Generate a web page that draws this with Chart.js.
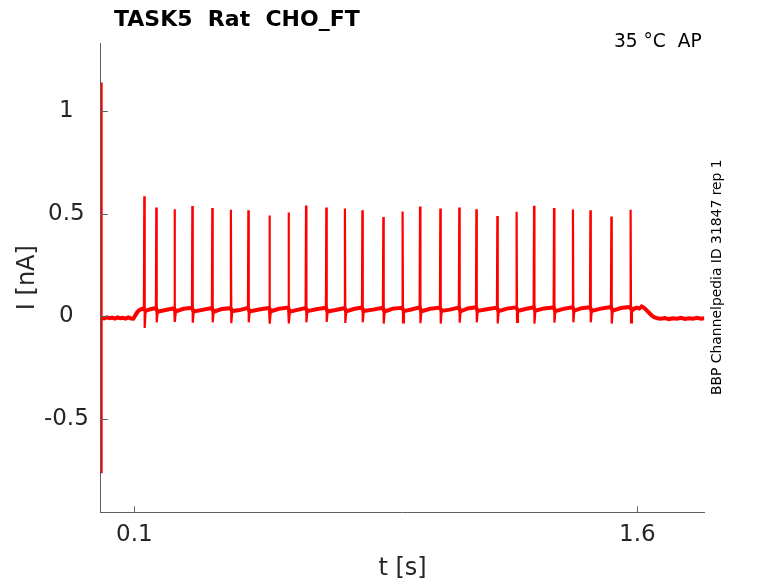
<!DOCTYPE html>
<html><head><meta charset="utf-8">
<script src="https://cdn.jsdelivr.net/npm/chart.js@4.4.1/dist/chart.umd.min.js"></script>
<style>html,body{margin:0;padding:0;background:#fff;}#wrap{width:778px;height:583px;}</style>
</head><body><div id="wrap"><canvas id="c" width="778" height="583"></canvas></div>
<script>
const titleText = "TASK5  Rat  CHO_FT";
const cornerText = "35 °C  AP";
const sideText = "BBP Channelpedia ID 31847 rep 1";
const xTitle = "t [s]";
const yTitle = "I [nA]";
const xTicks = [0.1, 1.6];
const yTicks = [-0.5, 0, 0.5, 1];
const xRange = [0, 1.8];
const yRange = [-0.956, 1.332];

// stimulus-onset artefact
const onsetT = [0.0004, 0.0008, 0.0018, 0.0028];
const onsetV = [-0.01, 1.14, -0.766, -0.01];

// baseline before the first spike
const preT = [0.003, 0.01, 0.018, 0.026, 0.034, 0.042, 0.05, 0.058, 0.066, 0.074, 0.082, 0.09, 0.097, 0.103, 0.109, 0.115, 0.121, 0.1285];
const preV = [-0.008, -0.011, -0.006, -0.01, -0.007, -0.012, -0.006, -0.01, -0.008, -0.012, -0.006, -0.011, -0.012, 0.004, 0.02, 0.03, 0.034, 0.038];

// spikes
const spikeT = [0.1297, 0.1655, 0.220, 0.273, 0.3325, 0.388, 0.440, 0.503, 0.560, 0.612, 0.6725, 0.728, 0.780, 0.8425, 0.900, 0.952, 1.0125, 1.069, 1.120, 1.1825, 1.240, 1.292, 1.3516, 1.408, 1.460, 1.5225, 1.580];
const spikePeak = [0.585, 0.530, 0.522, 0.537, 0.527, 0.519, 0.516, 0.491, 0.506, 0.540, 0.530, 0.525, 0.517, 0.484, 0.511, 0.535, 0.525, 0.530, 0.522, 0.488, 0.509, 0.538, 0.527, 0.520, 0.516, 0.486, 0.519];
const spikeTrough = [-0.057, -0.03, -0.028, -0.032, -0.03, -0.034, -0.03, -0.036, -0.035, -0.03, -0.028, -0.033, -0.03, -0.036, -0.03, -0.034, -0.036, -0.032, -0.03, -0.035, -0.028, -0.036, -0.031, -0.03, -0.03, -0.036, -0.03];
const spikePre = [0.038, 0.04, 0.039, 0.041, 0.04, 0.039, 0.041, 0.04, 0.042, 0.04, 0.041, 0.04, 0.042, 0.041, 0.041, 0.043, 0.042, 0.042, 0.044, 0.042, 0.043, 0.044, 0.043, 0.044, 0.044, 0.045, 0.045];
const spikePost = [0.026, 0.022, 0.024, 0.023, 0.022, 0.025, 0.023, 0.024, 0.022, 0.025, 0.023, 0.024, 0.025, 0.023, 0.025, 0.024, 0.026, 0.024, 0.026, 0.025, 0.026, 0.027, 0.025, 0.027, 0.026, 0.027, 0.028];
// baseline level midway between consecutive spikes
const midV = [0.034, 0.03, 0.036, 0.031, 0.035, 0.03, 0.033, 0.036, 0.031, 0.034, 0.03, 0.035, 0.032, 0.037, 0.033, 0.036, 0.032, 0.038, 0.034, 0.037, 0.035, 0.038, 0.036, 0.039, 0.037, 0.04];

// after the last spike
const tailT = [1.59, 1.598, 1.606, 1.613, 1.619, 1.626, 1.634, 1.642, 1.65, 1.66, 1.67, 1.682, 1.694, 1.706, 1.718, 1.73, 1.742, 1.754, 1.766, 1.778, 1.79, 1.8];
const tailV = [0.036, 0.042, 0.038, 0.048, 0.042, 0.032, 0.018, 0.005, -0.005, -0.01, -0.012, -0.009, -0.014, -0.01, -0.012, -0.008, -0.013, -0.01, -0.012, -0.008, -0.012, -0.01];

const FONT = "DejaVu Sans";
const AXIS = "#606060";
const TXT = "#262626";

// thick noisy baseline band
const band = [];
preT.forEach((t, i) => band.push({x: t, y: preV[i]}));
spikeT.forEach((t, i) => {
  band.push({x: t - 0.0012, y: spikePre[i]});
  band.push({x: t + 0.004, y: spikePost[i]});
  if (i < midV.length) band.push({x: (t + spikeT[i + 1]) / 2, y: midV[i]});
});
tailT.forEach((t, i) => band.push({x: t, y: tailV[i]}));

// thin spike strokes (separated by gaps)
const spikes = [];
onsetT.forEach((t, i) => spikes.push({x: t, y: onsetV[i]}));
spikes.push({x: 0.0029, y: null});
spikeT.forEach((t, i) => {
  spikes.push({x: t - 0.0012, y: spikePre[i]});
  spikes.push({x: t, y: spikePeak[i]});
  spikes.push({x: t + 0.0012, y: spikeTrough[i]});
  spikes.push({x: t + 0.004, y: spikePost[i]});
  spikes.push({x: t + 0.0041, y: null});
});

const decor = {
  id: 'decor',
  afterDraw(chart) {
    const {ctx, chartArea: a, scales: {x, y}} = chart;
    ctx.save();
    ctx.strokeStyle = AXIS; ctx.lineWidth = 1;
    ctx.beginPath();
    x.ticks.forEach(t => { const p = Math.round(x.getPixelForValue(t.value)) + 0.5; ctx.moveTo(p, a.bottom); ctx.lineTo(p, a.bottom - 6); });
    y.ticks.forEach(t => { const p = Math.round(y.getPixelForValue(t.value)) + 0.5; ctx.moveTo(a.left, p); ctx.lineTo(a.left + 7, p); });
    ctx.stroke();
    ctx.fillStyle = "#000";
    ctx.textBaseline = "alphabetic";
    ctx.textAlign = "left";
    ctx.font = "bold 22px '" + FONT + "'";
    ctx.fillText(titleText, 114, 26);
    ctx.font = "18.6px '" + FONT + "'";
    ctx.fillText(cornerText, 614, 47);
    ctx.font = "13.9px '" + FONT + "'";
    ctx.translate(721, 395);
    ctx.rotate(-Math.PI / 2);
    ctx.fillText(sideText, 0, 0);
    ctx.restore();
  }
};

new Chart(document.getElementById('c'), {
  type: 'line',
  data: { datasets: [
    { data: band, borderColor: '#ff0000', borderWidth: 4, pointRadius: 0, tension: 0, fill: false },
    { data: spikes, borderColor: '#ff0000', borderWidth: 2.2, pointRadius: 0, tension: 0, fill: false, spanGaps: false }
  ] },
  options: {
    responsive: false, animation: false, devicePixelRatio: 1,
    layout: { padding: { left: 0, right: 73.6, top: 43, bottom: 0 } },
    plugins: { legend: { display: false }, tooltip: { enabled: false }, title: { display: false } },
    scales: {
      x: {
        type: 'linear', min: xRange[0], max: xRange[1],
        afterBuildTicks: s => { s.ticks = xTicks.map(v => ({value: v})); },
        afterFit: s => { s.height = 70.7; },
        grid: { display: false, drawTicks: false },
        border: { display: true, color: AXIS, width: 1 },
        ticks: { font: { family: FONT, size: 23 }, color: TXT, padding: 9, maxRotation: 0, autoSkip: false, callback: v => String(v) },
        title: { display: true, text: xTitle, font: { family: FONT, size: 24 }, color: TXT, padding: { top: 0, bottom: 0 } }
      },
      y: {
        type: 'linear', min: yRange[0], max: yRange[1],
        afterBuildTicks: s => { s.ticks = yTicks.map(v => ({value: v})); },
        afterFit: s => { s.width = 100.8; },
        grid: { display: false, drawTicks: false },
        border: { display: true, color: AXIS, width: 1 },
        ticks: { font: { family: FONT, size: 23 }, color: TXT, padding: 12, crossAlign: 'center', autoSkip: false, callback: v => String(v) },
        title: { display: true, text: yTitle, font: { family: FONT, size: 24 }, color: TXT, padding: { top: 13.6, bottom: 0 } }
      }
    }
  },
  plugins: [decor]
});
</script>
</body></html>
